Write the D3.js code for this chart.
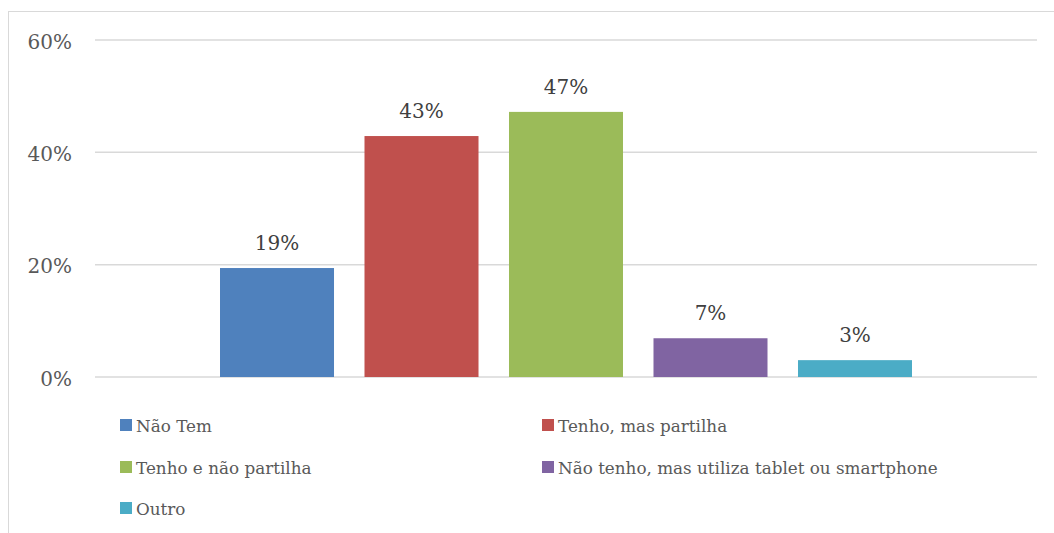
<!DOCTYPE html>
<html>
<head>
<meta charset="utf-8">
<script src="https://cdn.jsdelivr.net/npm/d3@7"></script>
<style>
  body { margin: 0; background: #fff; }
  text { font-family: "DejaVu Serif", "Liberation Serif", serif; }
</style>
</head>
<body>
<div id="chart"></div>
<script>
// data
var series = ["Não Tem", "Tenho, mas partilha", "Tenho e não partilha",
              "Não tenho, mas utiliza tablet ou smartphone", "Outro"];
var values = [0.194, 0.429, 0.472, 0.069, 0.030];
var labels = ["19%", "43%", "47%", "7%", "3%"];
var colors = ["#4f81bd", "#c0504d", "#9bbb59", "#8064a2", "#4bacc6"];
var yTicks = [0, 0.2, 0.4, 0.6];

var svgWidth = 1054;
var svgHeight = 533;

var svg = d3.select("#chart")
    .append("svg")
    .attr("width", svgWidth)
    .attr("height", svgHeight);

// chart border (top + left visible)
svg.append("rect")
    .attr("x", 8.5).attr("y", 11.5)
    .attr("width", 1060).attr("height", 540)
    .attr("fill", "none")
    .attr("stroke", "#d9d9d9");

var plotLeft = 95, plotRight = 1037;

var y = d3.scaleLinear().domain([0, 0.6]).range([377, 40]);
var x = d3.scaleBand().domain(series).range([220, 912])
    .paddingInner(0.211).paddingOuter(0);

// gridlines
svg.append("g").selectAll("line")
    .data(yTicks)
    .enter().append("line")
    .attr("x1", plotLeft).attr("x2", plotRight)
    .attr("y1", d => y(d)).attr("y2", d => y(d))
    .attr("stroke", "#d9d9d9")
    .attr("stroke-width", 1.5);

// y axis
var leftAxis = d3.axisLeft(y).tickValues(yTicks)
    .tickFormat(d3.format(".0%")).tickSize(0).tickPadding(0);
var yAxis = svg.append("g")
    .attr("transform", "translate(72,0)")
    .call(leftAxis);
yAxis.select(".domain").remove();
yAxis.selectAll("text")
    .attr("font-size", "20px")
    .attr("font-family", "DejaVu Serif, serif")
    .attr("fill", "#595959")
    .attr("dy", "0.4em");

// bars
svg.append("g").selectAll("rect")
    .data(values)
    .enter().append("rect")
    .attr("x", (d, i) => x(series[i]))
    .attr("y", d => y(d))
    .attr("width", x.bandwidth())
    .attr("height", d => y(0) - y(d))
    .attr("fill", (d, i) => colors[i]);

// data labels
svg.append("g").selectAll("text")
    .data(values)
    .enter().append("text")
    .attr("x", (d, i) => x(series[i]) + x.bandwidth() / 2)
    .attr("y", d => y(d) - 18)
    .attr("text-anchor", "middle")
    .attr("font-size", "20px")
    .attr("fill", "#404040")
    .text((d, i) => labels[i]);

// legend
var legendCols = [120, 542];
var legendRows = [425, 467, 508];
var legend = svg.append("g").selectAll("g")
    .data(series)
    .enter().append("g")
    .attr("transform", (d, i) => `translate(${legendCols[i % 2]}, ${legendRows[Math.floor(i / 2)]})`);

legend.append("rect")
    .attr("x", 0).attr("y", -6)
    .attr("width", 12).attr("height", 12)
    .attr("fill", (d, i) => colors[i]);

legend.append("text")
    .attr("x", 16).attr("y", 6.5)
    .attr("font-size", "16.8px")
    .attr("fill", "#595959")
    .text(d => d);
</script>
</body>
</html>
